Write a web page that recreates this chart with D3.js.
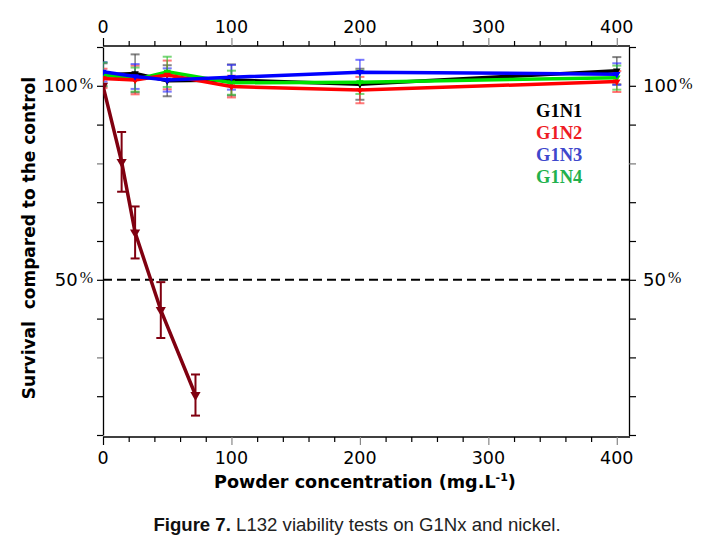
<!DOCTYPE html>
<html>
<head>
<meta charset="utf-8">
<script src="https://cdn.jsdelivr.net/npm/d3@7"></script>
<style>
  html, body { margin: 0; padding: 0; background: #fff; }
  svg { display: block; }
</style>
</head>
<body>
<svg id="chart" width="706" height="547"></svg>
<script>
// ---------- data ----------
const concentrations = [0, 25, 50, 100, 200, 400];
const seriesNames = ["G1N1", "G1N2", "G1N3", "G1N4"];
const g1n1 = [102.8, 103.2, 101.3, 101.5, 100.4, 103.9];
const g1n1Err = [3.0, 4.9, 4.0, 4.0, 4.0, 3.5];
const g1n2 = [101.9, 101.5, 102.8, 99.8, 98.9, 101.1];
const g1n2Err = [2.5, 3.7, 3.7, 2.8, 3.4, 2.7];
const g1n3 = [103.6, 102.4, 101.5, 102.2, 103.5, 103.0];
const g1n3Err = [2.5, 3.2, 3.0, 3.2, 3.2, 2.8];
const g1n4 = [103.0, 101.6, 103.6, 100.8, 100.9, 102.1];
const g1n4Err = [3.0, 3.1, 3.9, 3.1, 3.0, 3.1];
const nickelConc = [0, 14.5, 25, 45, 72];
const nickel = [100, 80.4, 62.2, 42.2, 20.3];
const nickelErr = [0, 7.7, 6.7, 7.2, 5.3];
const xMajorTicks = [0, 100, 200, 300, 400];
const yTickValues = [10, 20, 30, 40, 50, 60, 70, 80, 90, 100, 110];
const yLabelValues = [50, 100];
const thresholdValue = 50;

// ---------- styling ----------
const lineColors = ["#000000", "#ff0000", "#0000ff", "#00e000"];
const errColors = ["#444444", "#ff3030", "#3030ff", "#30c030"];
const legendColors = ["#000000", "#ee1c24", "#3f48cc", "#22b14c"];
const nickelColor = "#800010";

const svg = d3.select("#chart");
const L = 103, R = 629, T = 47, B = 435;

const x = d3.scaleLinear().domain([0, 409.5]).range([L, R]);
const y = d3.scaleLinear().domain([10, 110]).range([B, T]);

// clip
svg.append("defs").append("clipPath").attr("id", "plotclip")
  .append("rect").attr("x", L).attr("y", T - 2).attr("width", R - L).attr("height", B - T + 4);

const numFont = "'DejaVu Sans', Verdana, sans-serif";

// ---------- axes ----------
const minorTicks = d3.range(0, 401, 20);
function xAxisGen(orient) {
  return (orient === "top" ? d3.axisTop(x) : d3.axisBottom(x))
    .tickValues(minorTicks)
    .tickSizeInner(0).tickSizeOuter(0).tickFormat("");
}
// top axis
const topAx = svg.append("g").attr("transform", `translate(0,${T - 1})`).call(xAxisGen("top"));
topAx.select(".domain").attr("stroke", "#000").attr("stroke-width", 1.3).attr("d", `M${L},0H${R + 1}`);
topAx.selectAll(".tick line").attr("stroke", d => (d % 100 === 0 && d !== 0) ? "#888" : "#000")
  .attr("y2", d => d % 100 === 0 ? -8 : -5).attr("stroke-width", 1.2);
// bottom axis
const botAx = svg.append("g").attr("transform", `translate(0,${B + 2})`).call(xAxisGen("bottom"));
botAx.select(".domain").attr("stroke", "#000").attr("stroke-width", 1.3).attr("d", `M${L},0H${R + 1}`);
botAx.selectAll(".tick line").attr("stroke", d => (d % 100 === 0 && d !== 0) ? "#888" : "#000")
  .attr("y2", d => d % 100 === 0 ? 8 : 5).attr("stroke-width", 1.2);

// x tick labels (top and bottom)
[["top", 32.5], ["bottom", 464]].forEach(([pos, base]) => {
  svg.append("g").selectAll("text").data(xMajorTicks).join("text")
    .attr("x", d => x(d)).attr("y", base)
    .attr("text-anchor", "middle")
    .attr("font-family", numFont).attr("font-size", 17.5)
    .attr("fill", "#000").text(d => d);
});

// y axes
const leftAx = svg.append("g").attr("transform", `translate(${L},0)`)
  .call(d3.axisLeft(y).tickValues(yTickValues).tickSizeInner(6).tickSizeOuter(0).tickFormat(""));
leftAx.select(".domain").attr("stroke", "#000").attr("stroke-width", 1.3);
leftAx.selectAll(".tick line").attr("stroke", d => (d === 80 || d === 30) ? "#777" : "#000").attr("stroke-width", 1.2);
const rightAx = svg.append("g").attr("transform", `translate(${R},0)`)
  .call(d3.axisRight(y).tickValues(yTickValues).tickSizeInner(7).tickSizeOuter(0).tickFormat(""));
rightAx.select(".domain").attr("stroke", "#000").attr("stroke-width", 1.3);
rightAx.selectAll(".tick line").attr("stroke", d => (d === 80) ? "#777" : "#000").attr("stroke-width", 1.2);

// y labels with percent sign
function pctLabel(g, v, xpos, anchor) {
  const t = g.append("text")
    .attr("x", xpos).attr("y", y(v) + 6.5)
    .attr("text-anchor", anchor)
    .attr("font-family", numFont).attr("font-size", 18).attr("fill", "#000");
  t.append("tspan").text(v);
  t.append("tspan").attr("font-family", "'Liberation Serif', 'Times New Roman', serif")
    .attr("font-size", 16).attr("dx", 2).attr("dy", -3).text("%");
}
const lblG = svg.append("g");
yLabelValues.forEach(v => {
  pctLabel(lblG, v, 93, "end");
  pctLabel(lblG, v, 643, "start");
});

// 50% threshold line
svg.append("line")
  .attr("x1", L).attr("x2", R)
  .attr("y1", y(thresholdValue)).attr("y2", y(thresholdValue))
  .attr("stroke", "#000").attr("stroke-width", 2)
  .attr("stroke-dasharray", "9,5");

// ---------- data marks ----------
const plot = svg.append("g").attr("clip-path", "url(#plotclip)");
const allSeries = [
  { vals: g1n1, err: g1n1Err, i: 0 },
  { vals: g1n2, err: g1n2Err, i: 1 },
  { vals: g1n3, err: g1n3Err, i: 2 },
  { vals: g1n4, err: g1n4Err, i: 3 }
];
const line = d3.line().x(d => x(d[0])).y(d => y(d[1]));

// error bars first
allSeries.forEach(s => {
  const pts = concentrations.map((c, k) => ({ c, v: s.vals[k], e: s.err[k] }));
  const eg = plot.append("g").attr("stroke", errColors[s.i]).attr("stroke-opacity", 0.65).attr("stroke-width", 1.6);
  eg.selectAll("line.v").data(pts).join("line")
    .attr("x1", d => x(d.c)).attr("x2", d => x(d.c))
    .attr("y1", d => y(d.v + d.e)).attr("y2", d => y(d.v - d.e));
  eg.selectAll("line.t").data(pts).join("line")
    .attr("x1", d => x(d.c) - 4.5).attr("x2", d => x(d.c) + 4.5)
    .attr("y1", d => y(d.v + d.e)).attr("y2", d => y(d.v + d.e)).attr("stroke-width", 2);
  eg.selectAll("line.b").data(pts).join("line")
    .attr("x1", d => x(d.c) - 4.5).attr("x2", d => x(d.c) + 4.5)
    .attr("y1", d => y(d.v - d.e)).attr("y2", d => y(d.v - d.e)).attr("stroke-width", 2);
});

// lines: draw order black, green, red, blue
[0, 3, 1, 2].forEach(i => {
  const s = allSeries[i];
  const pts = concentrations.map((c, k) => [c, s.vals[k]]);
  plot.append("path").datum(pts)
    .attr("fill", "none").attr("stroke", lineColors[i]).attr("stroke-width", 3.5)
    .attr("stroke-linejoin", "round").attr("d", line);
  plot.append("g").selectAll("path").data(pts).join("path")
    .attr("d", d3.symbol(d3.symbolTriangle, 24))
    .attr("transform", d => `translate(${x(d[0])},${y(d[1])}) rotate(180)`)
    .attr("fill", lineColors[i]);
});

// nickel series
const nPts = nickelConc.map((c, k) => ({ c, v: nickel[k], e: nickelErr[k] }));
const ng = plot.append("g").attr("stroke", nickelColor).attr("stroke-width", 2);
ng.selectAll("line.v").data(nPts.filter(d => d.e > 0)).join("line")
  .attr("x1", d => x(d.c)).attr("x2", d => x(d.c))
  .attr("y1", d => y(d.v + d.e)).attr("y2", d => y(d.v - d.e));
ng.selectAll("line.t").data(nPts.filter(d => d.e > 0)).join("line")
  .attr("x1", d => x(d.c) - 4.5).attr("x2", d => x(d.c) + 4.5)
  .attr("y1", d => y(d.v + d.e)).attr("y2", d => y(d.v + d.e));
ng.selectAll("line.b").data(nPts.filter(d => d.e > 0)).join("line")
  .attr("x1", d => x(d.c) - 4.5).attr("x2", d => x(d.c) + 4.5)
  .attr("y1", d => y(d.v - d.e)).attr("y2", d => y(d.v - d.e));
plot.append("path").datum(nPts.map(d => [d.c, d.v]))
  .attr("fill", "none").attr("stroke", nickelColor).attr("stroke-width", 3.5)
  .attr("stroke-linejoin", "round").attr("d", line);
plot.append("g").selectAll("path").data(nPts).join("path")
  .attr("d", d3.symbol(d3.symbolTriangle, 45))
  .attr("transform", d => `translate(${x(d.c)},${y(d.v)}) rotate(180)`)
  .attr("fill", nickelColor);

// ---------- legend ----------
const leg = svg.append("g");
seriesNames.forEach((n, i) => {
  leg.append("text")
    .attr("x", 536).attr("y", 117 + i * 22)
    .attr("font-family", "'Liberation Serif', 'Times New Roman', serif")
    .attr("font-weight", "bold").attr("font-size", 18.5)
    .attr("fill", legendColors[i]).text(n);
});

// ---------- axis titles ----------
const xt = svg.append("text")
  .attr("x", 365).attr("y", 488)
  .attr("text-anchor", "middle")
  .attr("font-family", numFont).attr("font-weight", "bold").attr("font-size", 17.6)
  .attr("fill", "#000");
xt.append("tspan").text("Powder concentration (mg.L");
xt.append("tspan").attr("font-size", 11).attr("dy", -7).text("-1");
xt.append("tspan").attr("dy", 7).text(")");

svg.append("text")
  .attr("transform", `translate(35,238) rotate(-90)`)
  .attr("text-anchor", "middle")
  .attr("font-family", numFont).attr("font-weight", "bold").attr("font-size", 17)
  .attr("fill", "#000").attr("xml:space", "preserve")
  .text("Survival  compared to the control");

// ---------- caption ----------
const cap = svg.append("text")
  .attr("x", 357).attr("y", 531)
  .attr("text-anchor", "middle")
  .attr("font-family", "'Liberation Sans', Arial, sans-serif").attr("font-size", 18.6)
  .attr("fill", "#222");
cap.append("tspan").attr("font-weight", "bold").attr("fill", "#111").text("Figure 7.");
cap.append("tspan").text(" L132 viability tests on G1Nx and nickel.");
</script>
</body>
</html>
